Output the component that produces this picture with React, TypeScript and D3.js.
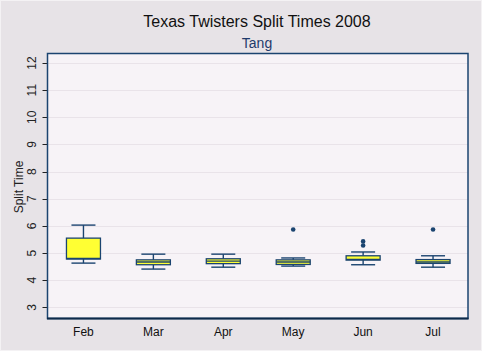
import React from "react";
import * as d3 from "d3";

const months = ["Feb", "Mar", "Apr", "May", "Jun", "Jul"];
const whiskerLow = [4.63, 4.41, 4.48, 4.52, 4.57, 4.48];
const q1 = [4.78, 4.57, 4.61, 4.58, 4.74, 4.62];
const medians = [4.8, 4.67, 4.7, 4.67, 4.77, 4.67];
const q3 = [5.55, 4.75, 4.79, 4.75, 4.9, 4.76];
const whiskerHigh = [6.03, 4.96, 4.96, 4.82, 5.04, 4.9];
const outliers: number[][] = [[], [], [], [5.87], [5.43, 5.28], [5.87]];
const yTicks = [3, 4, 5, 6, 7, 8, 9, 10, 11, 12];

const W = 482, H = 351;
const L = 47.5, T = 53.5, R = 468, B = 318.5;
const STROKE = "#1b4470";
const FONT = "'Liberation Sans', Arial, sans-serif";

export default function App() {
  const x = d3.scaleBand<string>().domain(months).range([L + 1, R]).paddingInner(0).paddingOuter(0);
  const y = d3.scaleLinear().domain([2.59, 12.35]).range([B, T]);
  const bw = x.bandwidth();
  const boxW = 34;
  const capW = 24;
  return (
    <svg width={W} height={H} style={{ position: "fixed", left: 0, top: 0 }} fontFamily={FONT}>
      <rect x={0} y={0} width={W} height={H} fill="#e7e3e7" />
      <rect x={0.5} y={0.5} width={W - 1} height={H - 1} fill="none" stroke="#f4f2f4" />
      <text x={257} y={27} textAnchor="middle" fontSize={16} fill="#111">Texas Twisters Split Times 2008</text>
      <text x={257} y={48} textAnchor="middle" fontSize={14} fill="#1f3a6b">Tang</text>
      <rect x={L} y={T} width={R - L} height={B - T} fill="#f7f3f7" />
      {yTicks.map((t) => (
        <g key={t}>
          <line x1={L} x2={R} y1={Math.round(y(t)) + 0.5} y2={Math.round(y(t)) + 0.5} stroke="#e9e3e9" />
          <line x1={L - 5} x2={L} y1={Math.round(y(t)) + 0.5} y2={Math.round(y(t)) + 0.5} stroke="#222" />
          <text transform={`translate(36,${y(t)}) rotate(-90)`} textAnchor="middle" fontSize={12} fill="#222">{t}</text>
        </g>
      ))}
      <text transform={`translate(23,187) rotate(-90)`} textAnchor="middle" fontSize={12} fill="#222">Split Time</text>
      {months.map((m, i) => {
        const cx = (x(m) as number) + bw / 2;
        return (
          <g key={m}>
            <line x1={cx} x2={cx} y1={y(whiskerHigh[i])} y2={y(q3[i])} stroke={STROKE} strokeWidth={1.4} />
            <line x1={cx} x2={cx} y1={y(q1[i])} y2={y(whiskerLow[i])} stroke={STROKE} strokeWidth={1.4} />
            <line x1={cx - capW / 2} x2={cx + capW / 2} y1={y(whiskerHigh[i])} y2={y(whiskerHigh[i])} stroke={STROKE} strokeWidth={1.4} />
            <line x1={cx - capW / 2} x2={cx + capW / 2} y1={y(whiskerLow[i])} y2={y(whiskerLow[i])} stroke={STROKE} strokeWidth={1.4} />
            <rect x={cx - boxW / 2} y={y(q3[i])} width={boxW} height={y(q1[i]) - y(q3[i])} fill="#ffff33" stroke={STROKE} strokeWidth={1.3} />
            <line x1={cx - boxW / 2} x2={cx + boxW / 2} y1={y(medians[i])} y2={y(medians[i])} stroke={STROKE} strokeWidth={1.3} />
            {outliers[i].map((o, j) => (
              <circle key={j} cx={cx} cy={y(o)} r={2.3} fill={STROKE} />
            ))}
            <text x={cx} y={336} textAnchor="middle" fontSize={12} fill="#111">{m}</text>
          </g>
        );
      })}
      <rect x={L} y={T} width={R - L} height={B - T} fill="none" stroke={STROKE} strokeWidth={1.5} />
      <line x1={L - 0.5} x2={R + 0.5} y1={B} y2={B} stroke="#0d2a4a" strokeWidth={2} />
    </svg>
  );
}
